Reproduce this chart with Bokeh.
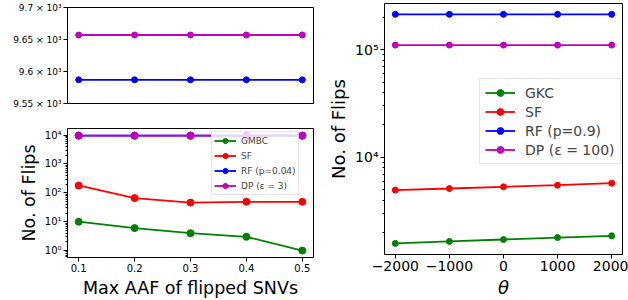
from bokeh.plotting import figure
from bokeh.layouts import row, column
from bokeh.models import Range1d, FixedTicker, CustomJSTickFormatter
from bokeh.embed import file_html
from bokeh.resources import INLINE

FONT = "DejaVu Sans"

# ---- data ----
aaf = [0.1, 0.2, 0.3, 0.4, 0.5]
gmbc_aaf = [10, 6, 4, 3, 1]
sf_aaf = [180, 66, 46, 49, 49]
rf_aaf = [9587, 9587, 9587, 9587, 9587]
dp_aaf = [9657, 9657, 9657, 9657, 9657]

theta = [-2000, -1000, 0, 1000, 2000]
gkc_theta = [1595, 1663, 1734, 1807, 1874]
sf_theta = [4980, 5150, 5340, 5530, 5770]
rf_theta = [212000, 212000, 212000, 212000, 212000]
dp_theta = [110000, 110000, 110000, 110000, 110000]

aaf_ticks = [0.1, 0.2, 0.3, 0.4, 0.5]
theta_ticks = [-2000, -1000, 0, 1000, 2000]
zoom_ticks = [9550, 9600, 9650, 9700]

GREEN, RED, BLUE, MAG = "#008000", "#ff0000", "#0000ff", "#bf00bf"

SUP = ("const s={'0':'\u2070','1':'\u00b9','2':'\u00b2','3':'\u00b3','4':'\u2074',"
       "'5':'\u2075','6':'\u2076','7':'\u2077','8':'\u2078','9':'\u2079','-':'\u207b'};")
LOGFMT = SUP + "const e=Math.round(Math.log10(tick)); return '10'+String(e).split('').map(c=>s[c]).join('');"


def style(p, tick_size, label_size):
    p.outline_line_color = "black"
    p.outline_line_width = 1
    p.xgrid.grid_line_color = None
    p.ygrid.grid_line_color = None
    p.background_fill_color = "white"
    p.border_fill_color = "white"
    for ax in p.axis:
        ax.axis_line_color = None
        ax.major_tick_line_color = "black"
        ax.minor_tick_line_color = "black"
        ax.major_tick_in = 0
        ax.major_tick_out = 4
        ax.minor_tick_in = 0
        ax.minor_tick_out = 2
        ax.major_label_text_font = FONT
        ax.major_label_text_font_size = tick_size
        ax.major_label_text_color = "black"
        ax.major_label_standoff = 2
        ax.axis_label_text_font = FONT
        ax.axis_label_text_font_style = "normal"
        ax.axis_label_text_font_size = label_size
        ax.axis_label_text_color = "black"
        ax.axis_label_standoff = 3


def series(p, x, y, color, label=None, size=7, lw=1.8):
    if label is None:
        p.line(x, y, line_color=color, line_width=lw)
        p.scatter(x, y, size=size, fill_color=color, line_color=color)
    else:
        p.line(x, y, line_color=color, line_width=lw, legend_label=label)
        p.scatter(x, y, size=size, fill_color=color, line_color=color, legend_label=label)


def style_legend(lg, font_size, glyph_w, lh, standoff, spacing, padding, loc):
    lg.location = loc
    lg.margin = 0
    lg.label_text_font = FONT
    lg.label_text_font_size = font_size
    lg.glyph_width = glyph_w
    lg.glyph_height = lh
    lg.label_height = lh
    lg.label_standoff = standoff
    lg.spacing = spacing
    lg.padding = padding
    lg.border_line_color = "#cccccc"
    lg.border_line_width = 1
    lg.background_fill_alpha = 0.8


# ---- top-left zoom panel ----
p1 = figure(width=320, height=110, x_range=Range1d(0.08, 0.52), y_range=Range1d(9550, 9700),
            min_border_left=67, min_border_right=7, min_border_top=7, min_border_bottom=7,
            output_backend="svg", toolbar_location=None)
series(p1, aaf, rf_aaf, BLUE, size=6)
series(p1, aaf, dp_aaf, MAG, size=6)
style(p1, "9px", "17px")
p1.xaxis.visible = False
p1.yaxis.ticker = FixedTicker(ticks=zoom_ticks)
p1.yaxis.formatter = CustomJSTickFormatter(code="return (tick/1000).toString() + ' \u00d7 10\u00b3';")

# ---- bottom-left panel ----
p2 = figure(width=320, height=190, x_range=Range1d(0.08, 0.52),
            y_axis_type="log", y_range=Range1d(10 ** -0.24, 10 ** 4.23),
            min_border_left=62, min_border_right=7, min_border_top=18, min_border_bottom=38,
            output_backend="svg", toolbar_location=None)
series(p2, aaf, gmbc_aaf, GREEN, "GMBC")
series(p2, aaf, sf_aaf, RED, "SF")
series(p2, aaf, rf_aaf, BLUE, "RF (p=0.04)")
series(p2, aaf, dp_aaf, MAG, "DP (\u03b5 = 3)")
style(p2, "10px", "17.5px")
p2.xaxis.ticker = FixedTicker(ticks=aaf_ticks)
p2.xaxis.axis_label = "Max AAF of flipped SNVs"
p2.yaxis.axis_label = "No. of Flips"
p2.yaxis.ticker = FixedTicker(ticks=[1, 10, 100, 1000, 10000],
                              minor_ticks=[k * 10 ** d for d in range(-1, 5) for k in range(2, 10)])
p2.yaxis.formatter = CustomJSTickFormatter(code=LOGFMT)
style_legend(p2.legend[0], "9px", 22, 13, 5, 2, 2, (144, 62))

# ---- right panel ----
p3 = figure(width=308, height=300, x_range=Range1d(-2200, 2200),
            y_axis_type="log", y_range=Range1d(10 ** 3.1, 10 ** 5.427),
            min_border_left=64, min_border_right=6, min_border_top=3, min_border_bottom=41,
            output_backend="svg", toolbar_location=None)
series(p3, theta, gkc_theta, GREEN, "GKC", size=6)
series(p3, theta, sf_theta, RED, "SF", size=6)
series(p3, theta, rf_theta, BLUE, "RF (p=0.9)", size=6)
series(p3, theta, dp_theta, MAG, "DP (\u03b5 = 100)", size=6)
style(p3, "14px", "18px")
p3.xaxis.ticker = FixedTicker(ticks=theta_ticks)
p3.xaxis.formatter = CustomJSTickFormatter(
    code="return tick < 0 ? '\u2212' + Math.abs(tick) : tick.toString();")
p3.xaxis.axis_label = "\u03b8"
p3.xaxis.axis_label_text_font_style = "italic"
p3.yaxis.axis_label = "No. of Flips"
p3.yaxis.ticker = FixedTicker(ticks=[1000, 10000, 100000, 1000000],
                              minor_ticks=[k * 10 ** d for d in range(3, 6) for k in range(2, 10)])
p3.yaxis.formatter = CustomJSTickFormatter(code=LOGFMT)
style_legend(p3.legend[0], "14px", 30, 17, 10, 2, 5, (95, 90))

layout = row(column(p1, p2), p3)
open("out.html", "w").write(file_html(layout, INLINE))
